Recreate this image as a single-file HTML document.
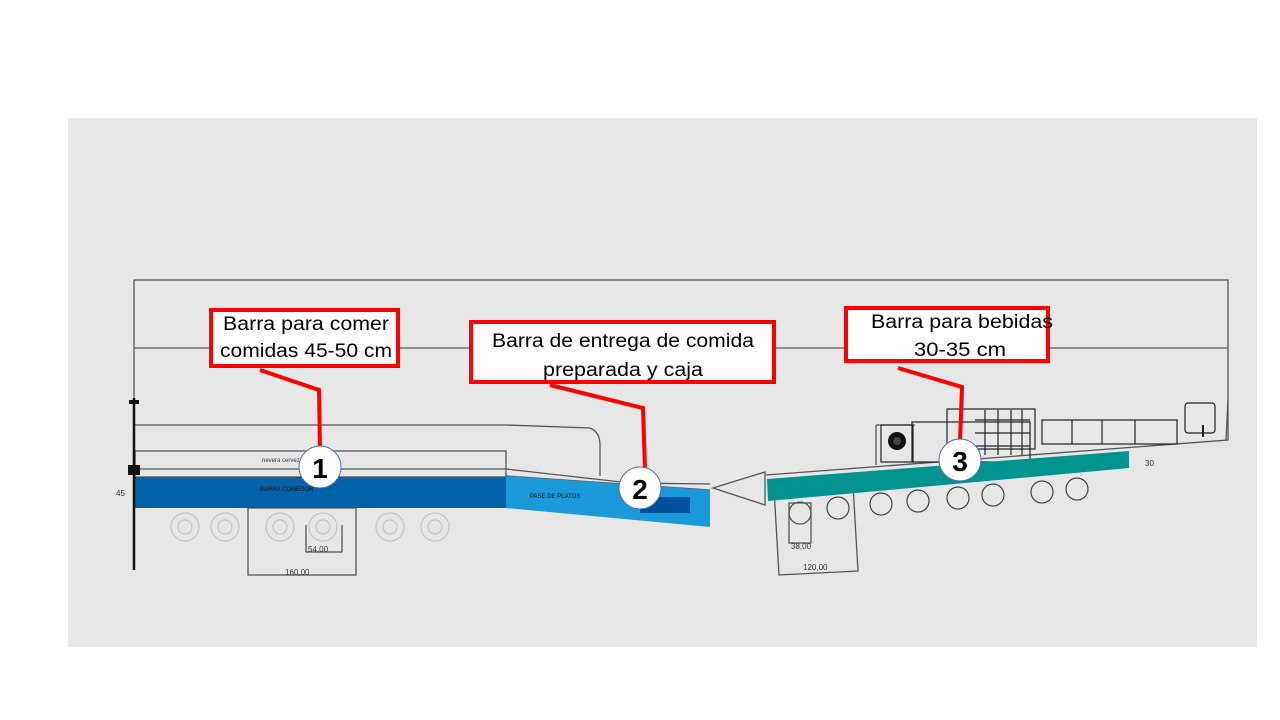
<!DOCTYPE html>
<html><head><meta charset="utf-8"><style>html,body{margin:0;padding:0;background:#fff}svg{display:block}</style></head>
<body>
<svg width="1280" height="720" viewBox="0 0 1280 720" xmlns="http://www.w3.org/2000/svg" font-family="'Liberation Sans', sans-serif">
<rect x="68" y="118" width="1189" height="529" fill="#e7e7e7"/>
<!-- outline -->
<g fill="none" stroke="#555" stroke-width="1.3">
<path d="M134,470 V280 H1228 V440 L766,475"/>
<line x1="134" y1="348" x2="1228" y2="348"/>
<path d="M135,425 H506 L590,428 Q600,432 600,445 V476"/>
<rect x="135" y="451" width="371" height="26"/>
<path d="M135,469 H506 L630,483 L710,484"/>
<path d="M506,476 L710,490"/>
<rect x="248" y="508" width="108" height="67"/>
<path d="M306,525 V552 H342 V525"/>
<path d="M713,488 L765,472 L765,505 Z"/>
<path d="M774,489 L779,575 L858,571 L853,485"/>
<rect x="789" y="503" width="22" height="40"/>
<circle cx="800" cy="513" r="11"/>
<path d="M876,425 V465 M876,425 H915 M1226,440 L1228,400"/>
</g>
<g fill="none" stroke="#222" stroke-width="1.2">
<rect x="881" y="425" width="32" height="37"/>
<rect x="912" y="422" width="118" height="40"/>
<rect x="947" y="409" width="88" height="40"/>
<path d="M975,420 H1030 M975,433 H1030 M975,446 H1030 M985,410 V455 M998,410 V455 M1011,410 V455 M1022,410 V455"/>
<rect x="1042" y="420" width="135" height="24"/>
<path d="M1072,420 V444 M1102,420 V444 M1135,420 V444"/>
<rect x="1185" y="403" width="30" height="30" rx="3"/>
<line x1="1203" y1="425" x2="1203" y2="437" stroke-width="2"/>
</g>
<circle cx="897" cy="441" r="9" fill="#111"/><circle cx="897" cy="441" r="4" fill="#444"/>
<!-- bars -->
<rect x="135" y="477" width="371" height="31" fill="#0062a8"/>
<path d="M506,476 L710,490 L710,527 L506,508 Z" fill="#1a9ad9"/>
<rect x="640" y="497" width="50" height="16" fill="#004f9c"/>
<path d="M767,479 L1129,451 L1129,468 L768,501 Z" fill="#009390"/>
<text x="260" y="491" font-size="6" fill="#111">BARRA COMEDOR</text>
<text x="530" y="498" font-size="6" fill="#111">PASE DE PLATOS</text>
<text x="262" y="462" font-size="6" fill="#333">nevera cerveza</text>
<text x="1145" y="466" font-size="8" fill="#333">30</text>
<text x="116" y="496" font-size="8" fill="#333">45</text>
<text x="308" y="552" font-size="8" fill="#333">54,00</text>
<text x="285" y="575" font-size="8" fill="#333">160,00</text>
<text x="791" y="549" font-size="8" fill="#333">38,00</text>
<text x="803" y="570" font-size="8" fill="#333">120,00</text>
<!-- left dimension line -->
<line x1="134" y1="398" x2="134" y2="570" stroke="#111" stroke-width="2.5"/>
<rect x="129" y="400" width="10" height="4" fill="#111"/>
<rect x="128" y="465" width="12" height="10" fill="#111"/>
<!-- stools -->
<g fill="none" stroke="#c4c4c4" stroke-width="1.2">
<circle cx="185" cy="527" r="14"/><circle cx="185" cy="527" r="7"/>
<circle cx="225" cy="527" r="14"/><circle cx="225" cy="527" r="7"/>
<circle cx="280" cy="527" r="14"/><circle cx="280" cy="527" r="7"/>
<circle cx="323" cy="527" r="14"/><circle cx="323" cy="527" r="7"/>
<circle cx="390" cy="527" r="14"/><circle cx="390" cy="527" r="7"/>
<circle cx="435" cy="527" r="14"/><circle cx="435" cy="527" r="7"/>
</g>
<g fill="none" stroke="#444" stroke-width="1.2">
<circle cx="838" cy="508" r="11"/><circle cx="881" cy="504" r="11"/><circle cx="918" cy="501" r="11"/>
<circle cx="958" cy="498" r="11"/><circle cx="993" cy="495" r="11"/><circle cx="1042" cy="492" r="11"/><circle cx="1077" cy="489" r="11"/>
</g>
<!-- leaders -->
<g fill="none" stroke="#f00" stroke-width="4">
<path d="M260,370 L319,390 L320,450"/>
<path d="M550,385 L643,408 L645,470"/>
<path d="M898,368 L962,387 L960,442"/>
</g>
<!-- boxes -->
<g fill="#fff" stroke="#f00" stroke-width="4">
<rect x="211" y="310" width="187" height="56"/>
<rect x="471" y="322" width="303" height="60"/>
<rect x="846" y="308" width="202" height="53"/>
</g>
<g font-size="19" fill="#000" text-anchor="middle">
<text x="306" y="330" textLength="166" lengthAdjust="spacingAndGlyphs">Barra para comer</text>
<text x="306" y="357" textLength="172" lengthAdjust="spacingAndGlyphs">comidas 45-50 cm</text>
<text x="623" y="347" textLength="262" lengthAdjust="spacingAndGlyphs">Barra de entrega de comida</text>
<text x="623" y="376" textLength="160" lengthAdjust="spacingAndGlyphs">preparada y caja</text>
<text x="962" y="328" textLength="182" lengthAdjust="spacingAndGlyphs">Barra para bebidas</text>
<text x="960" y="356" textLength="92" lengthAdjust="spacingAndGlyphs">30-35 cm</text>
</g>
<!-- numbered circles -->
<g fill="#fff" stroke="#4a6fb0" stroke-width="1">
<circle cx="320" cy="467" r="21"/><circle cx="640" cy="488" r="21"/><circle cx="960" cy="460" r="21"/>
</g>
<g font-size="28" font-weight="bold" text-anchor="middle" fill="#000">
<text x="320" y="478">1</text><text x="640" y="499">2</text><text x="960" y="471">3</text>
</g>
</svg>
</body></html>
